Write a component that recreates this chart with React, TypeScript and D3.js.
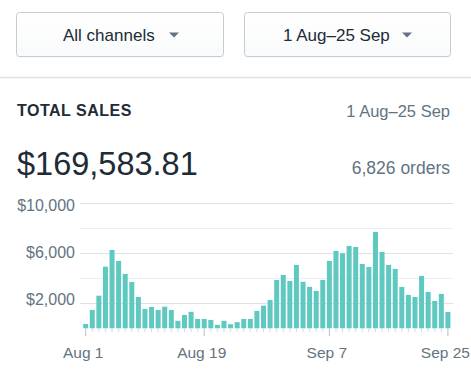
import React from "react";
import * as d3 from "d3";

const W = 471;
const H = 391;

// Data
const startDay = new Date(2017, 7, 1);
const endDayExclusive = new Date(2017, 8, 26);
const days: Date[] = d3.timeDay.range(startDay, endDayExclusive); // 56 days, Aug 1 – Sep 25
const sales: number[] = [
  350, 1470, 2610, 4930, 6270, 5390, 4350, 3710, 2510, 1550,
  1710, 1470, 1730, 1470, 600, 1070, 1320, 750, 750, 670,
  270, 600, 330, 490, 750, 750, 1390, 1810, 2270, 3870,
  4270, 3790, 5070, 3720, 3320, 2990, 3870, 5390, 6190, 6000,
  6590, 6510, 5150, 4910, 7710, 6110, 5070, 4750, 3310, 2670,
  2510, 4190, 2910, 2190, 2750, 1310,
];
const gridValues: number[] = [2000, 4000, 6000, 8000, 10000];
const yLabelValues: number[] = [2000, 6000, 10000];
const xLabelDates: Date[] = [
  new Date(2017, 7, 1),
  new Date(2017, 7, 19),
  new Date(2017, 8, 7),
  new Date(2017, 8, 25),
];
const channelLabel = "All channels";
const rangeLabel = "1 Aug–25 Sep";
const titleLabel = "TOTAL SALES";
const totalLabel = "$169,583.81";
const ordersLabel = "6,826 orders";

const FONT = "'Liberation Sans', Arial, Helvetica, sans-serif";
const INK = "#212b36";
const INK_LIGHT = "#637381";
const BAR = "#5fc9c1";

export default function App() {
  const x = d3
    .scaleBand<number>()
    .domain(days.map((d) => +d))
    .range([82.4, 451.2])
    .paddingInner(0.24)
    .paddingOuter(0.12);
  const y = d3.scaleLinear().domain([0, 10000]).range([328.3, 203.3]);
  // axis labels sit on their own slightly compressed scale in the reference
  const yLab = d3.scaleLinear().domain([0, 10000]).range([323.3, 205.3]);
  const fmtMoney = d3.format("$,.0f");
  const fmtDate = d3.timeFormat("%b %-d");
  const cx = (d: Date) => (x(+d) as number) + x.bandwidth() / 2;
  const labelSet = new Set(xLabelDates.map((d) => +d));

  const button = (x0: number, x1: number, label: string, textX: number, arrowX: number) => (
    <g>
      <rect x={x0 + 0.5} y={13.5} width={x1 - x0} height={44} rx={3} fill="rgba(22,29,37,0.06)" />
      <rect x={x0 + 0.5} y={12.5} width={x1 - x0} height={44} rx={3} fill="url(#btnGrad)" stroke="#c4cdd5" />
      <text x={textX} y={40.5} fontSize={17} fill={INK} fontFamily={FONT}>
        {label}
      </text>
      <path d={`M${arrowX - 5},32.5 L${arrowX + 5},32.5 L${arrowX},37.5 Z`} fill="#637381" />
    </g>
  );

  return (
    <svg
      width={W}
      height={H}
      style={{ position: "absolute", left: 0, top: 0, background: "#fff" }}
      fontFamily={FONT}
    >
      <defs>
        <linearGradient id="btnGrad" x1="0" y1="0" x2="0" y2="1">
          <stop offset="0" stopColor="#ffffff" />
          <stop offset="1" stopColor="#f9fafb" />
        </linearGradient>
      </defs>
      <rect width={W} height={H} fill="#fff" />

      {button(16, 223, channelLabel, 63, 174)}
      {button(244, 450, rangeLabel, 283, 407)}

      <line x1={0} x2={W} y1={77.5} y2={77.5} stroke="#dfe3e8" strokeWidth={1.5} />

      <text x={17} y={115.8} fontSize={16} fontWeight={700} fill={INK} letterSpacing={0.5}>
        {titleLabel}
      </text>
      <text x={450} y={116.5} fontSize={16.5} fill={INK_LIGHT} textAnchor="end">
        {rangeLabel}
      </text>
      <text x={17} y={174.5} fontSize={32.5} fill={INK}>
        {totalLabel}
      </text>
      <text x={450} y={173.5} fontSize={17.5} fill={INK_LIGHT} textAnchor="end">
        {ordersLabel}
      </text>

      {/* gridlines */}
      {gridValues.map((v) => (
        <line
          key={v}
          x1={80}
          x2={453}
          y1={Math.round(y(v)) + 0.5}
          y2={Math.round(y(v)) + 0.5}
          stroke={yLabelValues.includes(v) ? "#dfe3e8" : "#eceff2"}
          strokeWidth={1}
        />
      ))}
      {yLabelValues.map((v) => (
        <text
          key={v}
          x={75}
          y={yLab(v)}
          dy="0.35em"
          fontSize={16}
          fill={INK_LIGHT}
          textAnchor="end"
        >
          {fmtMoney(v)}
        </text>
      ))}

      {/* bars */}
      {days.map((d, i) => (
        <rect
          key={+d}
          x={x(+d)}
          y={y(sales[i])}
          width={x.bandwidth()}
          height={y(0) - y(sales[i])}
          fill={BAR}
        />
      ))}

      {/* x ticks */}
      {days.map((d) => (
        <line
          key={"t" + +d}
          x1={cx(d)}
          x2={cx(d)}
          y1={328.5}
          y2={labelSet.has(+d) ? 336 : 332}
          stroke={labelSet.has(+d) ? "#b5bfc8" : "#d3d9df"}
          strokeWidth={1}
        />
      ))}
      {xLabelDates.map((d) => (
        <text
          key={"l" + +d}
          x={cx(d) - 2.5}
          y={358}
          fontSize={15.5}
          fill={INK_LIGHT}
          textAnchor="middle"
        >
          {fmtDate(d)}
        </text>
      ))}
    </svg>
  );
}
